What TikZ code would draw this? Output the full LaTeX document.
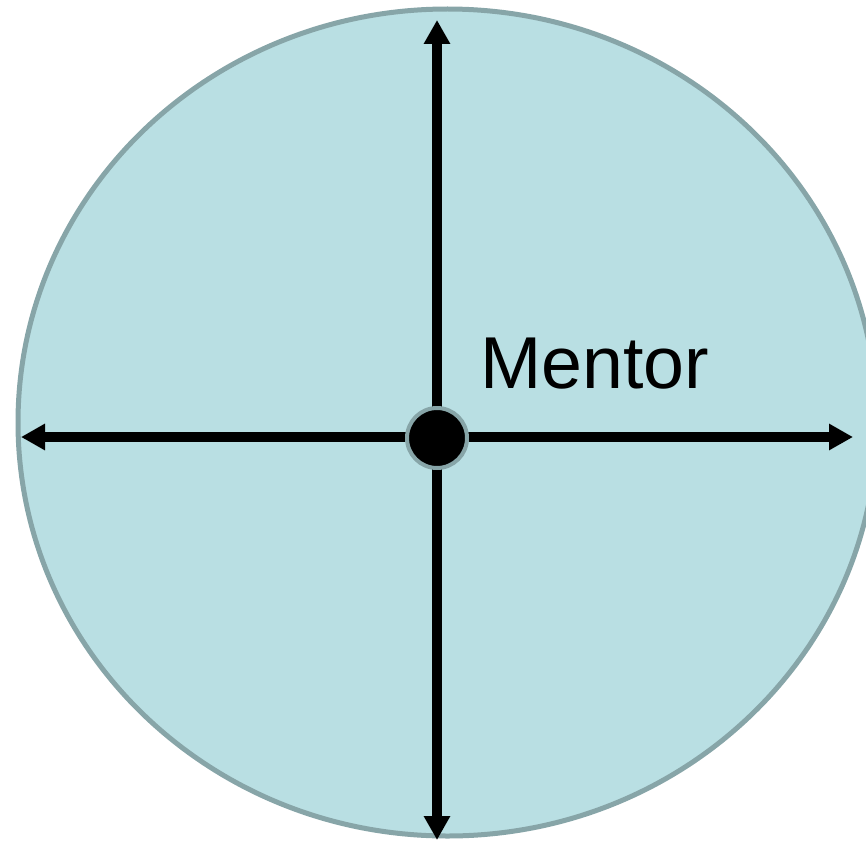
\documentclass[tikz,border=0pt]{standalone}
\usepackage{fontspec}
\setmainfont{Liberation Sans}
\usetikzlibrary{arrows.meta}
\definecolor{discfill}{HTML}{B9DFE3}
\definecolor{discedge}{HTML}{87A5A8}
\tikzset{
  disc/.style={fill=discfill, draw=discedge, line width=5pt},
  axis/.style={line width=9.5pt, -{Triangle[length=24pt,width=25pt]}},
  hub/.style={circle, fill=black, draw=discedge, line width=4pt, minimum size=60pt, inner sep=0pt},
  lbl/.style={font=\fontsize{73.5}{80}\selectfont, inner sep=0pt}
}
\begin{document}
\begin{tikzpicture}[x=1pt,y=-1pt]
\useasboundingbox (0,0) rectangle (866,840);
\clip (0,0) rectangle (866,840);
\draw[disc] (447.5,422.5) ellipse [x radius=429.5, y radius=413.5];
\coordinate (c) at (437,438);
\coordinate (top) at (437,20);
\coordinate (bot) at (437,840);
\coordinate (lft) at (21,437);
\coordinate (rgt) at (853,437);
\draw[axis] (c) -- (top);
\draw[axis] (c) -- (bot);
\draw[axis] (437,437) -- (lft);
\draw[axis] (437,437) -- (rgt);
\node[hub] (dot) at (c) {};
\node[lbl, anchor=base west] (mentor) at (480,388) {Mentor};
\end{tikzpicture}
\end{document}
